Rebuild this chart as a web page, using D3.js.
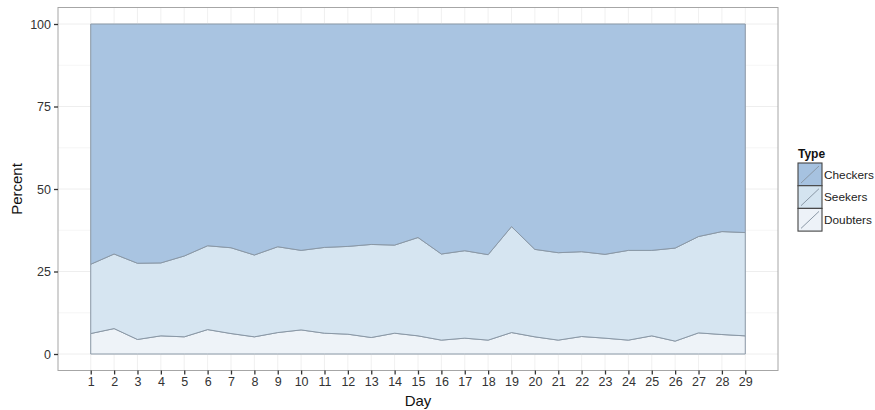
<!DOCTYPE html>
<html>
<head>
<meta charset="utf-8">
<script src="https://cdn.jsdelivr.net/npm/d3@7"></script>
<style>
  body { margin: 0; background: #fff; }
  text { font-family: "Liberation Sans", Arial, sans-serif; }
</style>
</head>
<body>
<div id="chart"></div>
<script>
// values (percent of each day)
const days = d3.range(1, 30);
const doubters = [6.2, 7.7, 4.4, 5.5, 5.2, 7.4, 6.2, 5.2, 6.5, 7.3, 6.3, 6.0, 5.0, 6.3, 5.5,
                  4.2, 4.8, 4.2, 6.5, 5.2, 4.2, 5.3, 4.8, 4.2, 5.5, 3.9, 6.4, 5.9, 5.5];
// seekers + doubters (top of the middle band)
const seekersTop = [27.2, 30.3, 27.5, 27.6, 29.7, 32.8, 32.2, 30.0, 32.5, 31.4, 32.3, 32.6, 33.2, 33.0, 35.3,
                    30.3, 31.3, 30.1, 38.6, 31.7, 30.7, 31.0, 30.2, 31.4, 31.4, 32.1, 35.6, 37.1, 36.8];
const seekers = seekersTop.map((v, i) => +(v - doubters[i]).toFixed(1));
const checkers = seekersTop.map(v => +(100 - v).toFixed(1));
const yTicks = [0, 25, 50, 75, 100];
const types = ["Checkers", "Seekers", "Doubters"];
const colors = {Checkers: "#a6c2e0", Seekers: "#d4e4f0", Doubters: "#edf2f8"};

const width = 875, height = 410;
const panel = {left: 58, right: 778, top: 7.5, bottom: 370.5};

const table = days.map((d, i) => ({day: d, Doubters: doubters[i], Seekers: seekers[i], Checkers: checkers[i]}));
const stack = d3.stack().keys(["Doubters", "Seekers", "Checkers"])(table);

const x = d3.scaleLinear().domain([1 - 1.4, 29 + 1.4]).range([panel.left, panel.right]);
const y = d3.scaleLinear().domain([-5, 105]).range([panel.bottom, panel.top]);

const svg = d3.select("#chart").append("svg")
    .attr("width", width)
    .attr("height", height);

// grid
const grid = svg.append("g").attr("stroke", "#ececec").attr("stroke-width", 0.8);
grid.selectAll(".gx").data(days).join("line")
    .attr("x1", d => x(d)).attr("x2", d => x(d))
    .attr("y1", panel.top).attr("y2", panel.bottom);
grid.selectAll(".gy").data(d3.range(0, 101, 12.5)).join("line")
    .attr("x1", panel.left).attr("x2", panel.right)
    .attr("y1", d => y(d)).attr("y2", d => y(d))
    .attr("stroke-width", d => d % 25 === 0 ? 0.9 : 0.5);

// stacked areas
const area = d3.area()
    .x(d => x(d.data.day))
    .y0(d => y(d[0]))
    .y1(d => y(d[1]));
svg.append("g").selectAll("path")
    .data(stack)
    .join("path")
    .attr("d", area)
    .attr("fill", d => colors[d.key])
    .attr("fill-opacity", 0.96)
    .attr("stroke", "#8a98a6")
    .attr("stroke-width", 1);

// panel border
svg.append("rect")
    .attr("x", panel.left).attr("y", panel.top)
    .attr("width", panel.right - panel.left).attr("height", panel.bottom - panel.top)
    .attr("fill", "none").attr("stroke", "#a6a6a6").attr("stroke-width", 1);

// axes
const xAxis = svg.append("g")
    .attr("transform", `translate(0,${panel.bottom})`)
    .call(d3.axisBottom(x).tickValues(days).tickFormat(d3.format("d")).tickSize(4).tickPadding(3));
xAxis.select(".domain").remove();
const yAxis = svg.append("g")
    .attr("transform", `translate(${panel.left},0)`)
    .call(d3.axisLeft(y).tickValues(yTicks).tickSize(4).tickPadding(3));
yAxis.select(".domain").remove();
svg.selectAll(".tick line").attr("stroke", "#333").attr("stroke-width", 1.3);
svg.selectAll(".tick text")
    .attr("fill", "#333")
    .style("font-size", "12.5px")
    .style("font-family", "'Liberation Sans', Arial, sans-serif");

svg.append("text")
    .attr("x", (panel.left + panel.right) / 2)
    .attr("y", 406)
    .attr("text-anchor", "middle")
    .style("font-size", "15px")
    .attr("fill", "#111")
    .text("Day");
svg.append("text")
    .attr("transform", `translate(22,${(panel.top + panel.bottom) / 2}) rotate(-90)`)
    .attr("text-anchor", "middle")
    .style("font-size", "15px")
    .attr("fill", "#111")
    .text("Percent");

// legend
const legend = svg.append("g").attr("transform", "translate(798,163)");
legend.append("text")
    .attr("x", 0).attr("y", -5)
    .style("font-size", "12px").style("font-weight", "bold")
    .attr("fill", "#111")
    .text("Type");
const item = legend.selectAll(".item").data(types).join("g")
    .attr("transform", (d, i) => `translate(0,${i * 22.7})`);
item.append("rect")
    .attr("width", 24).attr("height", 22.7)
    .attr("fill", d => colors[d])
    .attr("stroke", "#444").attr("stroke-width", 1.1);
item.append("line")
    .attr("x1", 3).attr("y1", 20).attr("x2", 21).attr("y2", 3)
    .attr("stroke", "#8a98a6").attr("stroke-width", 1);
item.append("text")
    .attr("x", 26).attr("y", 15.5)
    .style("font-size", "11.8px")
    .attr("fill", "#222")
    .text(d => d);
</script>
</body>
</html>
